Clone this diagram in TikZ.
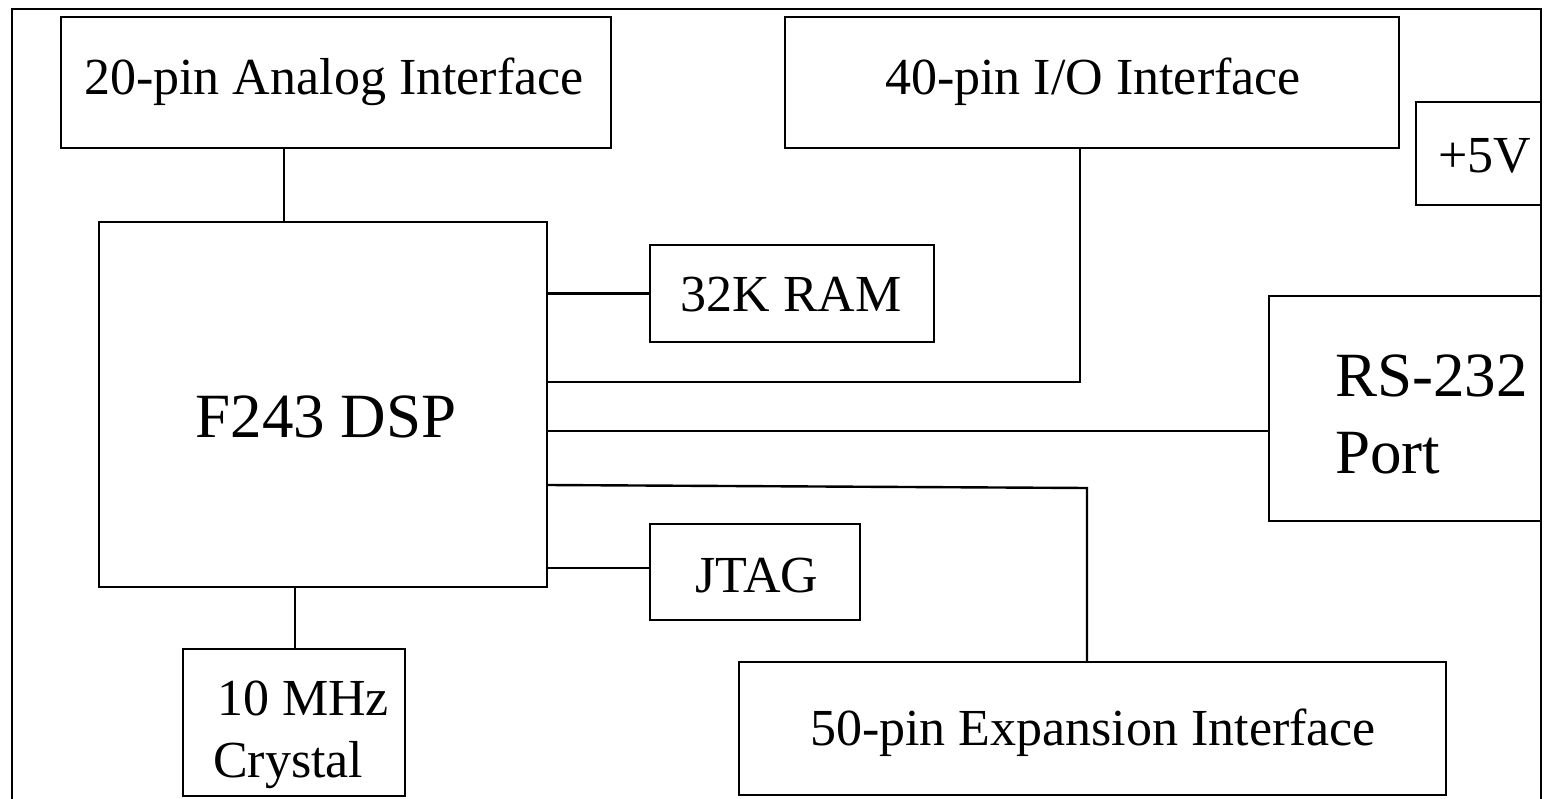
\documentclass[tikz,border=0pt]{standalone}
\usepackage{fontspec}
\setmainfont{Liberation Serif}
\begin{document}
\begin{tikzpicture}[x=1pt,y=-1pt,
  box/.style={draw,line width=2.4pt,rectangle,inner sep=0pt,outer sep=0pt},
  wire/.style={line width=2.4pt},
  lbl/.style={inner sep=0pt,outer sep=0pt,font=\fontsize{52}{62}\selectfont},
  big/.style={inner sep=0pt,outer sep=0pt,font=\fontsize{63}{76}\selectfont}]
\useasboundingbox (0,0) rectangle (1545,799);
% outer frame (open at the bottom)
\draw[wire] (12,800) -- (12,9) -- (1541,9) -- (1541,800);
% boxes
\node[box,minimum width=550pt,minimum height=131pt] (ana) at (336,82.5) {};
\node[box,minimum width=614pt,minimum height=131pt] (io) at (1092,82.5) {};
\node[box,minimum width=125pt,minimum height=103pt] (p5) at (1478.5,153.5) {};
\node[box,minimum width=448pt,minimum height=365pt] (dsp) at (323,404.5) {};
\node[box,minimum width=284pt,minimum height=97pt] (ram) at (792,293.5) {};
\node[box,minimum width=272pt,minimum height=225pt] (rs) at (1405,408.5) {};
\node[box,minimum width=210pt,minimum height=96pt] (jtag) at (755,572) {};
\node[box,minimum width=222pt,minimum height=147pt] (xtal) at (294,722.5) {};
\node[box,minimum width=707pt,minimum height=133pt] (exp) at (1092.5,728.5) {};
% texts
\node[lbl,anchor=base] (tana) at (334,95) {20-pin Analog Interface};
\node[lbl,anchor=base] (tio) at (1093,95) {40-pin I/O Interface};
\node[lbl,anchor=base west] (tp5) at (1438,173) {+5V};
\node[big,anchor=base] (tdsp) at (326,437) {F243 DSP};
\node[lbl,anchor=base] (tram) at (791,312) {32K RAM};
\node[big,anchor=base west] (trs1) at (1335,397) {RS-232};
\node[big,anchor=base west] (trs2) at (1335,473) {Port};
\node[lbl,anchor=base] (tjtag) at (757,592) {JTAG};
\node[lbl,anchor=base west] (tx1) at (217,715) {10 MHz};
\node[lbl,anchor=base west] (tx2) at (213,777) {Crystal};
\node[lbl,anchor=base] (texp) at (1093,745) {50-pin Expansion Interface};
% connectors
\draw[wire] ([xshift=-52pt]ana.south) -- ([xshift=-39pt]dsp.north);
\draw[wire] (ram.west -| dsp.east) -- (ram.west);
\draw[wire] ([yshift=22.5pt]dsp.east) -| ([xshift=-12pt]io.south);
\draw[wire] ([yshift=-22.5pt]rs.west -| dsp.east) -- ([yshift=-22.5pt]rs.west);
\draw[wire] ([yshift=-80.5pt]dsp.east) -- ([xshift=-5.5pt,yshift=174pt]exp.north) -- ([xshift=-5.5pt]exp.north);
\draw[wire] ([yshift=4pt]jtag.west -| dsp.east) -- ([yshift=4pt]jtag.west);
\draw[wire] ([xshift=-28pt]dsp.south) -- ([xshift=1pt]xtal.north);
\end{tikzpicture}
\end{document}
